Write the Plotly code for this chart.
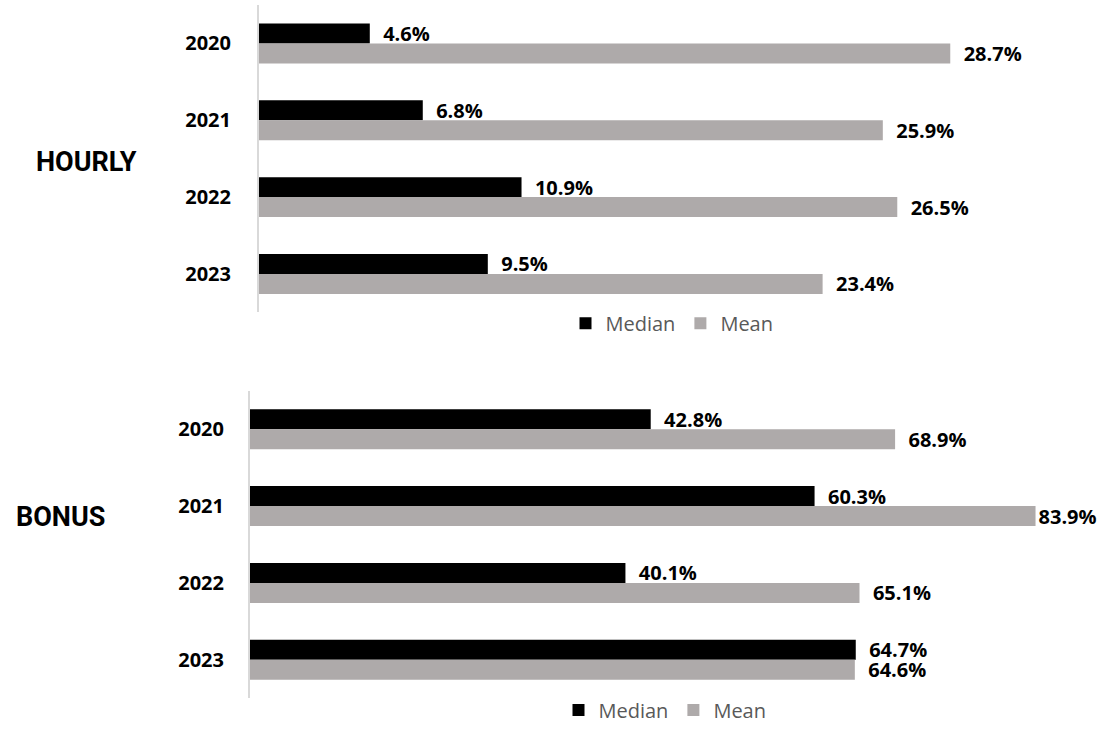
import plotly.graph_objects as go

years = ["2020", "2021", "2022", "2023"]
hourly_median = [4.6, 6.8, 10.9, 9.5]
hourly_mean = [28.7, 25.9, 26.5, 23.4]
bonus_median = [42.8, 60.3, 40.1, 64.7]
bonus_mean = [68.9, 83.9, 65.1, 64.6]

BLACK = "#000000"
GRAY = "#aeaaaa"

W, H = 1102, 730

def px_x(p):
    return p / W

def px_y(p):
    return 1 - p / H

fig = go.Figure()

def add_bars(med, mean, xa, ya, legend, xmax):
    for name, vals, col in [("Median", med, BLACK), ("Mean", mean, GRAY)]:
        # labels near the right edge sit tight against the bar so they stay inside the chart
        texts = [(f"{v:.1f}%" if v > 0.9 * xmax else f"  {v:.1f}%") for v in vals]
        fig.add_trace(go.Bar(
            y=years, x=vals, orientation="h", name=name,
            marker=dict(color=col, line=dict(width=0)),
            text=texts, textposition="outside",
            textfont=dict(family="Open Sans, sans-serif", size=20, color="#000000", weight="bold"),
            constraintext="none", cliponaxis=False,
            xaxis=xa, yaxis=ya, legend=legend, hoverinfo="skip",
        ))

add_bars(hourly_median, hourly_mean, "x", "y", "legend", 35)
add_bars(bonus_median, bonus_mean, "x2", "y2", "legend2", 91)

common_x = dict(showgrid=False, zeroline=False, showticklabels=False, showline=False, fixedrange=True)
common_y = dict(showgrid=False, zeroline=False, showline=True, linecolor="#d9d9d9", linewidth=2,
                autorange="reversed", ticks="",
                tickfont=dict(family="Open Sans, sans-serif", size=20, color="#000000", weight="bold"))

legend_common = dict(orientation="h", xanchor="center", yanchor="middle",
                     font=dict(family="Open Sans, sans-serif", size=20, color="#595959"),
                     bgcolor="rgba(0,0,0,0)", itemclick=False, itemdoubleclick=False)

TITLE_FONT = dict(family="Roboto, sans-serif", size=27, color="#000000")

fig.update_layout(
    width=W, height=H, margin=dict(l=0, r=0, t=0, b=0),
    paper_bgcolor="white", plot_bgcolor="white",
    barmode="group", bargap=0.48, bargroupgap=0,
    showlegend=True,
    xaxis=dict(domain=[px_x(259), 1], range=[0, 35], anchor="y", **common_x),
    yaxis=dict(domain=[px_y(315), px_y(5)], anchor="x", ticklabelstandoff=22, **common_y),
    xaxis2=dict(domain=[px_x(250), 1], range=[0, 91], anchor="y2", **common_x),
    yaxis2=dict(domain=[px_y(704), px_y(394)], anchor="x2", ticklabelstandoff=20, **common_y),
    legend=dict(x=px_x(672), y=px_y(326), **legend_common),
    legend2=dict(x=px_x(665), y=px_y(716), **legend_common),
    annotations=[
        dict(text="<b>HOURLY</b>", x=px_x(86), y=px_y(163), xref="paper", yref="paper",
             showarrow=False, xanchor="center", yanchor="middle", font=TITLE_FONT),
        dict(text="<b>BONUS</b>", x=px_x(60), y=px_y(521), xref="paper", yref="paper",
             showarrow=False, xanchor="center", yanchor="middle", font=TITLE_FONT),
    ],
)

fig.write_html("out.html")
